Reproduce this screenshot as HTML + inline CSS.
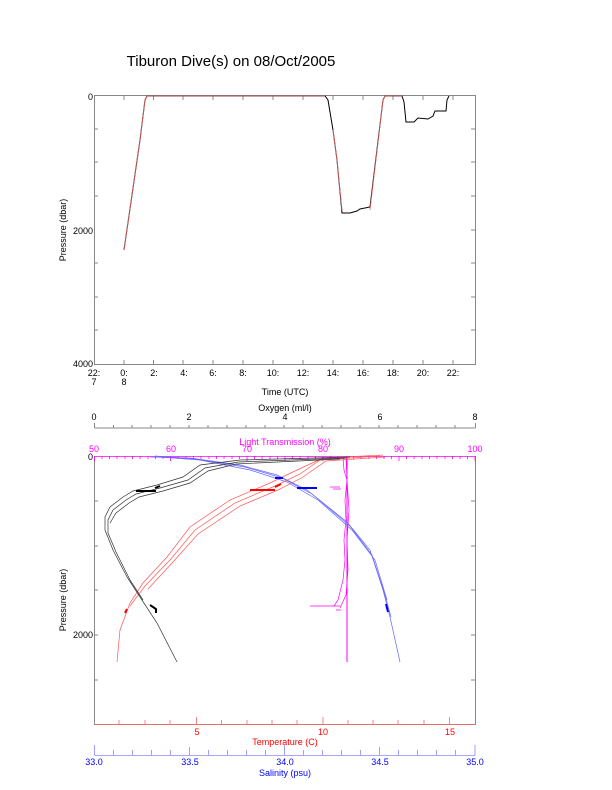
<!DOCTYPE html>
<html><head><style>
body{margin:0;background:#fff;}
svg text{font-family:"Liberation Sans",sans-serif;}
</style></head><body>
<svg width="612" height="785" viewBox="0 0 612 785" xmlns="http://www.w3.org/2000/svg">
<rect width="612" height="785" fill="#fff"/>
<text x="231" y="66" font-size="15" text-anchor="middle">Tiburon Dive(s) on 08/Oct/2005</text>
<!-- top chart -->
<g stroke="#888" fill="none" stroke-width="1">
<rect x="94.5" y="95.5" width="381" height="269"/>
<path d="M94 129h4M94 162h4M94 196h4M94 263h4M94 297h4M94 330h4
M475 129h-4M475 162h-4M475 196h-4M475 230h-4M475 263h-4M475 297h-4M475 330h-4
M124 96v4M153.5 96v4M183 96v4M213 96v4M243 96v4M273 96v4M303 96v4M333 96v4M363 96v4M393 96v4M423 96v4M453 96v4
M124 364v-4M153.5 364v-4M183 364v-4M213 364v-4M243 364v-4M273 364v-4M303 364v-4M333 364v-4M363 364v-4M393 364v-4M423 364v-4M453 364v-4"/>
</g>
<g font-size="9" text-anchor="end">
<text x="93" y="100">0</text><text x="93" y="234">2000</text><text x="93" y="367">4000</text>
</g>
<g font-size="9" text-anchor="middle">
<text x="94" y="376">22:</text><text x="94" y="385">7</text>
<text x="124" y="376">0:</text><text x="124" y="385">8</text>
<text x="154" y="376">2:</text><text x="184" y="376">4:</text><text x="213" y="376">6:</text><text x="243" y="376">8:</text>
<text x="273" y="376">10:</text><text x="303" y="376">12:</text><text x="333" y="376">14:</text><text x="363" y="376">16:</text>
<text x="393" y="376">18:</text><text x="423" y="376">20:</text><text x="453" y="376">22:</text>
<text x="285" y="395">Time (UTC)</text>
</g>
<text font-size="9" text-anchor="middle" transform="translate(66,230) rotate(-90)">Pressure (dbar)</text>
<polyline fill="none" stroke="#000" stroke-width="1" points="124,250 140,140 145,100 147,96 325,96 328,100 333,130 337,160 342,213 350,213 357,211 360,209 370,207 383,100 385,96 402,96 404,102 406,122 414,122 418,118 428,119 433,116 435,111 446,111 447,100 449,96"/>
<polyline fill="none" stroke="#e06060" stroke-width="0.8" points="124,250 140,140 145,100 147,96 325,96"/>
<polyline fill="none" stroke="#e06060" stroke-width="0.8" points="333,130 337,160 342,210"/>
<polyline fill="none" stroke="#e06060" stroke-width="0.8" points="370,210 383,100 385,96 402,96"/>
<!-- bottom chart -->
<g stroke="#888" fill="none">
<path d="M94.5 427v-3M94.5 428h381M475.5 428v-5
M94.5 428v-5M113.5 428v-3M132 428v-3M151 428v-3M170 428v-3M189 428v-3M208 428v-3M227 428v-3M246 428v-3M265 428v-3M284 428v-3M303 428v-3M322 428v-3M341 428v-3M360 428v-3M379 428v-3M398 428v-3M417 428v-3M436 428v-3M455 428v-3"/>
<path d="M94.5 456v269M94.5 724.5h381M475.5 456v269 M94 546h4M94 590h4M94 635h4M94 680h4M94 501h4 M475 501h-4M475 546h-4M475 590h-4M475 635h-4M475 680h-4"/>
</g>
<g stroke="#f0f" stroke-width="0.8">
<path d="M94.5 456.5h381"/>
<path d="M94.5 456v5M102 456v3M109.5 456v3M117 456v3M125 456v3M132.5 456v3M140 456v3M148 456v3M155.5 456v3M163 456v3M170.5 456v5M178 456v3M186 456v3M193.5 456v3M201 456v3M209 456v3M216.5 456v3M224 456v3M232 456v3M239.5 456v3M247 456v5M254.5 456v3M262 456v3M270 456v3M277.5 456v3M285 456v5M292.5 456v3M300 456v3M308 456v3M315.5 456v3M323 456v5M330.5 456v3M338 456v3M346 456v3M353.5 456v3M361 456v3M369 456v3M376.5 456v3M384 456v3M391.5 456v3M399 456v5M406.5 456v3M414 456v3M422 456v3M429.5 456v3M437 456v3M445 456v3M452.5 456v3M460 456v3M467.5 456v3M475 456v5"/>
</g>
<g stroke="#f66" stroke-width="0.8">
<path d="M94.5 724.5h381"/>
<path d="M119 725v-5M145 725v-5M170 725v-5M196.5 725v-8M221.5 725v-5M247 725v-5M272 725v-5M297 725v-5M323 725v-8M348 725v-5M373 725v-5M398 725v-5M424 725v-5M449.5 725v-8"/>
</g>
<g stroke="#88f" stroke-width="0.8">
<path d="M94.5 755.5h381"/>
<path d="M94.5 755v-10M113.5 755v-5M132.5 755v-5M151.5 755v-5M170.5 755v-5M189.5 755v-8M208.5 755v-5M227.5 755v-5M246.5 755v-5M265.5 755v-5M284.5 755v-10M303.5 755v-5M322.5 755v-5M341.5 755v-5M360.5 755v-5M379.5 755v-8M398.5 755v-5M417.5 755v-5M436.5 755v-5M455.5 755v-5M475 755v-10"/>
</g>
<g font-size="9" text-anchor="middle">
<text x="94" y="420">0</text><text x="189" y="420">2</text><text x="285" y="420">4</text><text x="380" y="420">6</text><text x="475" y="420">8</text>
<text x="285" y="411">Oxygen (ml/l)</text>
</g>
<g font-size="9" text-anchor="middle" fill="#f0f">
<text x="285" y="445">Light Transmission (%)</text>
<text x="94" y="452">50</text><text x="171" y="452">60</text><text x="247" y="452">70</text><text x="323" y="452">80</text><text x="399" y="452">90</text><text x="475" y="452">100</text>
</g>
<g font-size="9" text-anchor="end"><text x="93" y="460">0</text><text x="93" y="638">2000</text></g>
<text font-size="9" text-anchor="middle" transform="translate(66,600) rotate(-90)">Pressure (dbar)</text>
<g font-size="9" text-anchor="middle" fill="#f00">
<text x="197" y="735">5</text><text x="323" y="735">10</text><text x="450" y="735">15</text>
<text x="285" y="745">Temperature (C)</text>
</g>
<g font-size="9" text-anchor="middle" fill="#00f">
<text x="94" y="765">33.0</text><text x="190" y="765">33.5</text><text x="285" y="765">34.0</text><text x="380" y="765">34.5</text><text x="475" y="765">35.0</text>
<text x="285" y="776">Salinity (psu)</text>
</g>
<!-- data -->
<g fill="none" stroke-width="0.7">
<g stroke="#f0f">
<polyline points="343,457 344,470 347,480 345,500 346,520 344,540 345,560 343,580 338,600 334,606"/>
<polyline points="346,457 347,480 349,510 347,540 348,570 346,595 340,608"/>
<polyline points="347,457 347,662" stroke-width="1"/>
<path d="M310 606h30M333 489h8M330 487h10M336 610h5"/>
</g>
<g stroke="#66f">
<polyline points="150,457 190,458 240,465 277,475 307,490 347,522 370,550 383,590 390,617 400,662"/>
<polyline points="155,456 195,459 245,467 282,478 312,494 350,526 372,555 385,595 391,617"/>
<polyline points="160,457 200,460 250,470 287,482 318,500 352,530 375,560 387,600"/>
</g>
<g stroke="#f55">
<polyline points="383,455 323,458 297,470 270,483 230,500 190,527 167,557 143,583 130,603 120,630 117,662"/>
<polyline points="380,456 320,460 300,474 275,486 235,503 195,530 170,560 145,586 130,606"/>
<polyline points="385,457 326,461 303,477 278,490 240,506 198,534 173,562 148,589"/>
</g>
<g stroke="#333">
<polyline points="350,457 240,460 200,465 183,477 157,485 133,491 123,497 110,507 105,517 105,530 113,550 127,577 140,597 157,623 177,662"/>
<polyline points="345,458 238,462 205,468 188,480 160,488 136,494 126,500 113,510 108,520 108,533 116,552 130,580 143,600"/>
<polyline points="340,459 236,464 208,471 190,483 163,491 139,497 129,503 116,513 110,523"/>
</g>
</g>
<g stroke-width="2" fill="none">
<path d="M136 491h20M155 488l5 -2" stroke="#000"/>
<path d="M150 605l6 4v4" stroke="#000"/>
<path d="M250 490h25M275 487l6 -3" stroke="#f00"/>
<path d="M127 609l-2 4" stroke="#f00"/>
<path d="M297 488h20M275 478h8" stroke="#00f"/>
<path d="M386 604l2 8" stroke="#00f"/>
</g>
</svg>
</body></html>
